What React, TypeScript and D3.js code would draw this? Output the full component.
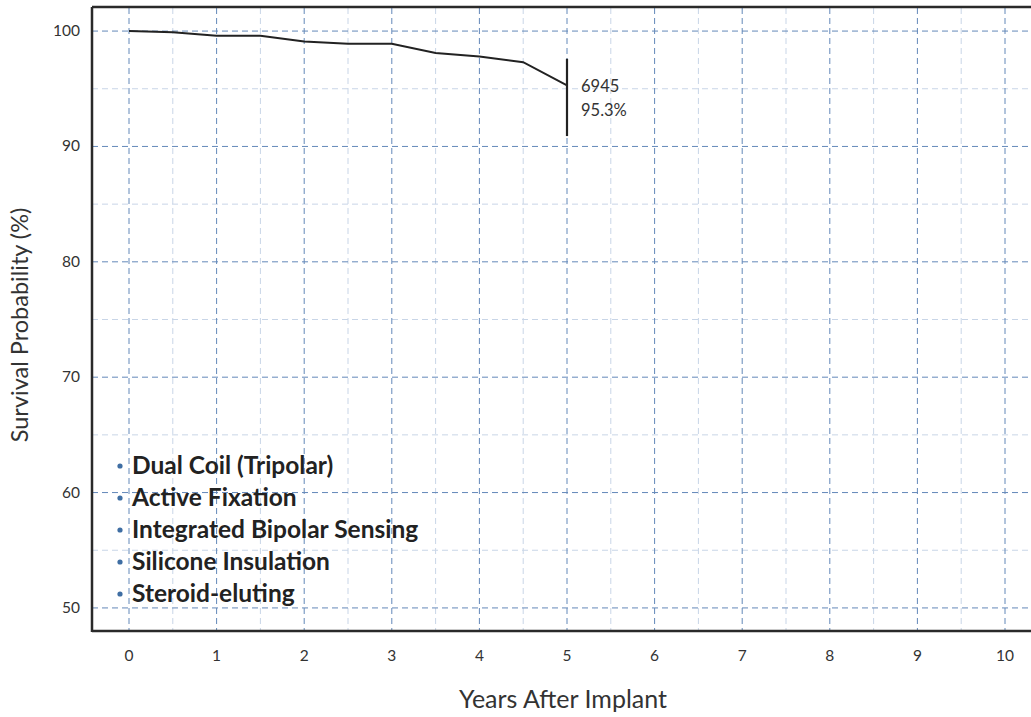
import React from "react";
import * as d3 from "d3";

const years = [0, 0.5, 1, 1.5, 2, 2.5, 3, 3.5, 4, 4.5, 5];
const survival = [100, 99.9, 99.6, 99.6, 99.1, 98.9, 98.9, 98.1, 97.8, 97.3, 95.3];
const ciYear = 5;
const ciLow = 90.9;
const ciHigh = 97.6;
const annotationLines = ["6945", "95.3%"];
const xTicks = [0, 1, 2, 3, 4, 5, 6, 7, 8, 9, 10];
const xMinor = [0.5, 1.5, 2.5, 3.5, 4.5, 5.5, 6.5, 7.5, 8.5, 9.5];
const yTicks = [50, 60, 70, 80, 90, 100];
const yMinor = [55, 65, 75, 85, 95];
const features = [
  "Dual Coil (Tripolar)",
  "Active Fixation",
  "Integrated Bipolar Sensing",
  "Silicone Insulation",
  "Steroid-eluting",
];

const W = 1031;
const H = 717;
const left = 92;
const top = 8;
const bottom = 631;
const right = 1031;

export default function App() {
  const x = d3.scaleLinear().domain([0, 10]).range([129, 1005]);
  const y = d3.scaleLinear().domain([48, 102]).range([bottom, top]);
  const line = d3
    .line<number>()
    .x((_, i) => x(years[i]))
    .y((d) => y(d));
  const font = "Lato, 'Open Sans', sans-serif";
  const majorColor = "#6388b9";
  const minorColor = "#c8d5e7";
  return (
    <svg
      width={W}
      height={H}
      style={{ position: "absolute", left: 0, top: 0, background: "#fff" }}
      fontFamily={font}
    >
      {xMinor.map((t) => (
        <line key={"xm" + t} x1={x(t)} x2={x(t)} y1={top} y2={bottom} stroke={minorColor} strokeWidth={1} strokeDasharray="6,4" />
      ))}
      {yMinor.map((t) => (
        <line key={"ym" + t} x1={left} x2={right} y1={y(t)} y2={y(t)} stroke={minorColor} strokeWidth={1} strokeDasharray="6,4" />
      ))}
      {xTicks.map((t) => (
        <line key={"xM" + t} x1={x(t)} x2={x(t)} y1={top} y2={bottom} stroke={majorColor} strokeWidth={1} strokeDasharray="6,4" />
      ))}
      {yTicks.map((t) => (
        <line key={"yM" + t} x1={left} x2={right} y1={y(t)} y2={y(t)} stroke={majorColor} strokeWidth={1} strokeDasharray="6,4" />
      ))}
      <line x1={left} x2={left} y1={top - 1} y2={bottom + 1} stroke="#2a2a2a" strokeWidth={2.5} />
      <line x1={left} x2={right} y1={top - 1} y2={top - 1} stroke="#2a2a2a" strokeWidth={2.5} />
      <line x1={left} x2={right} y1={bottom} y2={bottom} stroke="#2a2a2a" strokeWidth={2.5} />
      <path d={line(survival) || ""} fill="none" stroke="#222" strokeWidth={2} />
      <line x1={x(ciYear)} x2={x(ciYear)} y1={y(ciHigh)} y2={y(ciLow)} stroke="#222" strokeWidth={2.2} />
      {annotationLines.map((s, i) => (
        <text key={s} x={x(ciYear) + 14} y={y(survival[survival.length - 1]) + 7 + i * 24} fontSize={16.5} fill="#333">
          {s}
        </text>
      ))}
      {yTicks.map((t) => (
        <text key={"yt" + t} x={80} y={y(t) + 5} textAnchor="end" fontSize={15.5} fill="#333">
          {t}
        </text>
      ))}
      {xTicks.map((t) => (
        <text key={"xt" + t} x={x(t)} y={661} textAnchor="middle" fontSize={15.5} fill="#333">
          {t}
        </text>
      ))}
      <text x={563} y={708} textAnchor="middle" fontSize={25} fill="#333">
        Years After Implant
      </text>
      <text transform={`translate(28,325) rotate(-90)`} textAnchor="middle" fontSize={23.5} fill="#333">
        Survival Probability (%)
      </text>
      {features.map((f, i) => (
        <g key={f}>
          <circle cx={120} cy={466 + i * 32} r={2.6} fill="#3f6ea3" />
          <text x={132} y={474 + i * 32} fontSize={24.5} fontWeight="bold" fill="#222">
            {f}
          </text>
        </g>
      ))}
    </svg>
  );
}
